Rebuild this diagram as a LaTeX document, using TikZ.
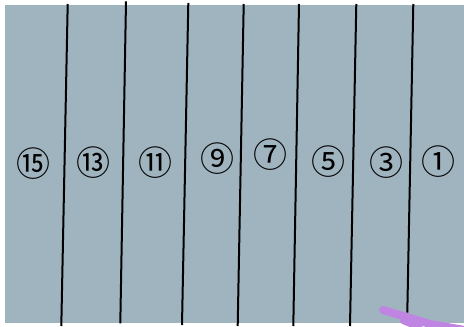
\documentclass[tikz,border=0pt]{standalone}
\usepackage{fontspec}
\newfontfamily\circfont{Noto Sans CJK SC}
\usetikzlibrary{positioning}

\definecolor{slate}{RGB}{160,180,191}
\definecolor{brush}{RGB}{192,132,226}

\begin{document}
\begin{tikzpicture}[
    x=1pt, y=-1pt,
    strip/.style={line width=2pt, black},
    num/.style={font=\circfont\fontsize{34}{34}\selectfont, inner sep=0pt},
    stroke/.style={line width=8pt, brush, line cap=round}
]
\useasboundingbox (0,0) rectangle (464,327);

\fill[slate] (5,5) rectangle (464,323);

% dividing lines
\draw[strip] (67.7,4) -- (61.3,326);
\draw[strip] (126,1.3) -- (120.3,323.3);
\draw[strip] (188.3,3) -- (182,325);
\draw[strip] (243.7,4) -- (237.7,326);
\draw[strip] (299,4) -- (293.3,326);
\draw[strip] (356.3,4) -- (350,326);
\draw[strip] (413.3,4) -- (407.3,312.7);

% numbers
\node[num] (n15) at (33.3,163.3) {⑮};
\node[num] (n13) at (93.7,163) {⑬};
\node[num] (n11) at (155,163) {⑪};
\node[num] (n9) at (217.3,158.3) {⑨};
\node[num] (n7) at (270,154.3) {⑦};
\node[num] (n5) at (328.7,161.7) {⑤};
\node[num] (n3) at (386,162.7) {③};
\node[num] (n1) at (438.3,161.7) {①};

% brush mark
\begin{scope}
\clip (0,0) rectangle (464,327);
\draw[stroke] (383,310) -- (430,324) -- (470,331);
\draw[stroke, line width=6pt] (403,321) -- (420,328);
\end{scope}

\end{tikzpicture}
\end{document}
